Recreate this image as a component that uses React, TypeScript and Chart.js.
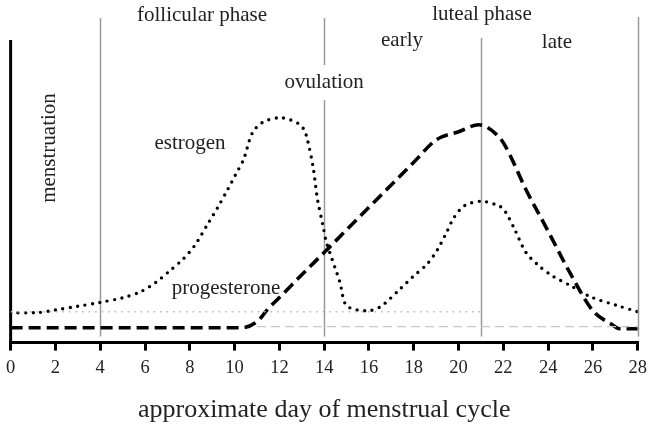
import React, { useEffect, useRef } from "react";
import { Chart, registerables } from "chart.js";

Chart.register(...registerables);

const estrogenDays = [0, 1.2, 2, 3, 4, 5, 5.8, 6.5, 7.1, 7.7, 8.2, 8.85, 9.25, 9.7, 10.05, 10.4, 10.8, 11.3, 12.1, 12.85, 13.1, 13.25, 13.5, 13.7, 13.95, 14.1, 14.7, 15, 15.9, 16.5, 17.4, 17.95, 18.6, 19.05, 19.45, 19.8, 20.3, 21.05, 21.85, 22.1, 22.5, 23, 23.6, 24.2, 25, 25.9, 27.1, 28];
const estrogenLevels = [9.9, 9.9, 10.8, 12, 13.3, 14.8, 16.8, 20, 23.7, 27.6, 31.9, 39.8, 44.7, 50.7, 55.6, 60.5, 69.4, 73, 74.3, 72.4, 70.4, 67.1, 58.2, 47.4, 38.5, 33.2, 20, 12.2, 10.5, 11.8, 17.8, 21.7, 26, 30.6, 36.2, 41.4, 45.4, 46.7, 45, 43.1, 37.5, 29.9, 25.3, 22, 18.8, 15.1, 12.2, 10.2];

const progesteroneDays = [0, 5, 9, 10.3, 11, 11.5, 12, 13, 14, 16, 18, 19, 20, 20.9, 21.8, 22.1, 23, 24, 25, 26, 26.8, 27.2, 28];
const progesteroneLevels = [4.9, 4.9, 4.9, 4.9, 6.9, 11.2, 14.9, 22.4, 29.8, 44.7, 59.6, 67, 69.7, 72, 68, 64.8, 50.7, 36.8, 22.7, 10.5, 6.2, 4.6, 4.6];

const estrogenBaseDays = [0, 21];
const estrogenBaseLevels = [10.2, 10.2];
const progesteroneBaseDays = [11, 28];
const progesteroneBaseLevels = [5.3, 5.3];

const phaseBoundaryDays = [4, 14, 21, 28];
const xTickValues = [0, 2, 4, 6, 8, 10, 12, 14, 16, 18, 20, 22, 24, 26, 28];

const pts = (xs: number[], ys: number[]) => xs.map((x, i) => ({ x, y: ys[i] }));

const SERIF = "'Liberation Serif', 'Times New Roman', serif";
const TEXT = "#222";

const overlayPlugin = {
  id: "overlay",
  beforeDatasetsDraw(chart: any) {
    const { ctx, chartArea, scales } = chart;
    const xs = scales.x;
    ctx.save();
    ctx.strokeStyle = "#000";
    ctx.lineWidth = 3;
    ctx.beginPath();
    ctx.moveTo(chartArea.left, chartArea.top);
    ctx.lineTo(chartArea.left, chartArea.bottom);
    ctx.stroke();
    ctx.strokeStyle = "#9a9a9a";
    ctx.lineWidth = 1.5;
    const bottom = chartArea.bottom - 6;
    const segs: Record<number, [number, number][]> = {
      4: [[18, bottom]],
      14: [[18, 65], [100, bottom]],
      21: [[38, bottom]],
      28: [[17, bottom]],
    };
    phaseBoundaryDays.forEach((d) => {
      const px = Math.round(xs.getPixelForValue(d)) + 0.5;
      (segs[d] || [[18, bottom]]).forEach(([a, b]) => {
        ctx.beginPath();
        ctx.moveTo(px, a);
        ctx.lineTo(px, b);
        ctx.stroke();
      });
    });
    ctx.restore();
  },
  afterDatasetsDraw(chart: any) {
    const { ctx, scales } = chart;
    const xs = scales.x;
    ctx.save();
    ctx.fillStyle = TEXT;
    ctx.textAlign = "center";
    ctx.textBaseline = "middle";
    ctx.font = `21px ${SERIF}`;
    ctx.fillText("follicular phase", 202, 15);
    ctx.fillText("luteal phase", 482, 14);
    ctx.fillText("early", 402, 40);
    ctx.fillText("late", 557, 42);
    ctx.fillText("ovulation", xs.getPixelForValue(14), 82);
    ctx.fillText("estrogen", 190, 143);
    ctx.fillText("progesterone", 226, 288);
    ctx.translate(49, 148);
    ctx.rotate(-Math.PI / 2);
    ctx.fillText("menstruation", 0, 0);
    ctx.restore();
  },
};

export default function App() {
  const ref = useRef<HTMLCanvasElement>(null);
  useEffect(() => {
    if (!ref.current) return;
    const chart = new Chart(ref.current, {
      type: "line",
      data: {
        datasets: [
          {
            label: "estrogen baseline",
            data: pts(estrogenBaseDays, estrogenBaseLevels),
            borderColor: "#b5b5b5",
            borderWidth: 1.3,
            borderDash: [1.5, 5],
            pointRadius: 0,
          },
          {
            label: "progesterone baseline",
            data: pts(progesteroneBaseDays, progesteroneBaseLevels),
            borderColor: "#c8c8c8",
            borderWidth: 1.3,
            borderDash: [9, 5],
            pointRadius: 0,
          },
          {
            label: "estrogen",
            data: pts(estrogenDays, estrogenLevels),
            borderColor: "#000",
            borderWidth: 3.4,
            borderDash: [0, 7.5],
            borderCapStyle: "round",
            tension: 0.3,
            pointRadius: 0,
          },
          {
            label: "progesterone",
            data: pts(progesteroneDays, progesteroneLevels),
            borderColor: "#000",
            borderWidth: 3.6,
            borderDash: [12, 6],
            cubicInterpolationMode: "monotone",
            pointRadius: 0,
          },
        ],
      },
      options: {
        animation: false,
        responsive: false,
        layout: { padding: { left: 8, right: 13, top: 40, bottom: 5 } },
        plugins: { legend: { display: false }, tooltip: { enabled: false } },
        scales: {
          x: {
            type: "linear",
            min: 0,
            max: 28,
            afterBuildTicks: (axis: any) => {
              axis.ticks = xTickValues.map((v) => ({ value: v }));
            },
            ticks: {
              font: { family: SERIF, size: 18.5 },
              color: TEXT,
              padding: 6,
              maxRotation: 0,
              autoSkip: false,
            },
            grid: {
              drawOnChartArea: false,
              drawTicks: true,
              tickLength: 8,
              color: "#000",
              lineWidth: 3,
            },
            border: { display: true, color: "#000", width: 3 },
            title: {
              display: true,
              text: "approximate day of menstrual cycle",
              font: { family: SERIF, size: 26 },
              color: TEXT,
              padding: { top: 10, bottom: 0 },
            },
          },
          y: { display: false, min: 0, max: 100 },
        },
      },
      plugins: [overlayPlugin],
    });
    return () => chart.destroy();
  }, []);
  return (
    <div style={{ position: "fixed", left: 0, top: 0, width: 653, height: 431, background: "#fff" }}>
      <canvas ref={ref} width={653} height={431} style={{ width: 653, height: 431 }} />
    </div>
  );
}
